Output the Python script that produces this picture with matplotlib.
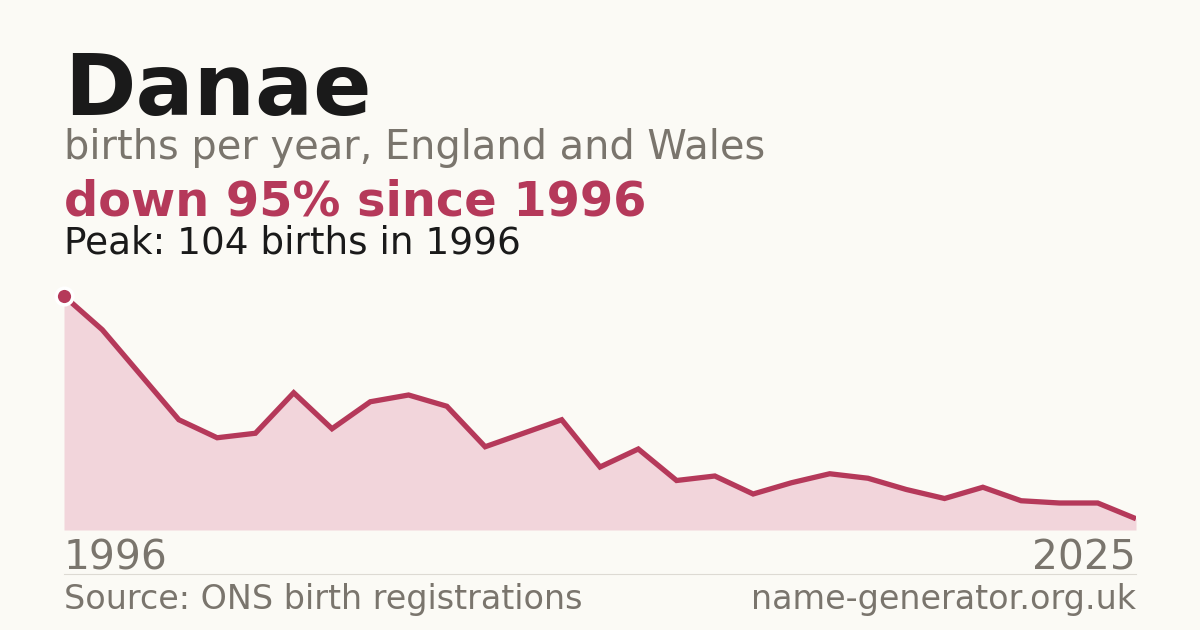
import numpy as np
import matplotlib
matplotlib.use("Agg")
import matplotlib.pyplot as plt

# births per year
births = [104, 89, 69, 49, 41, 43, 61, 45, 57, 60, 55, 37, 43, 49, 28,
          36, 22, 24, 16, 21, 25, 23, 18, 14, 19, 13, 12, 12, 5]
first_year = "1996"
last_year = "2025"

name = "Danae"
subtitle = "births per year, England and Wales"
change_text = "down 95% since 1996"
peak_text = "Peak: 104 births in 1996"
source_text = "Source: ONS birth registrations"
site_text = "name-generator.org.uk"

BG = "#fbfaf5"
RED = "#b5395a"
FILL = "#f2d5db"
GREY = "#7a756d"
INK = "#1a1a1a"

W, H = 1200, 630
fig = plt.figure(figsize=(12, 6.3), dpi=100, facecolor=BG)
plt.rcParams['font.family'] = ['DejaVu Sans']

def fy(px):
    # pixel row from top -> figure fraction
    return (H - px) / H

x = np.arange(len(births))
ax = fig.add_axes([64 / W, fy(530), (1136 - 64) / W, (530 - 296) / H])
ax.set_facecolor("none")
ax.fill_between(x, births, 0, color=FILL, lw=0)
ax.plot(x, births, color=RED, lw=3.8, solid_joinstyle="miter", solid_capstyle="butt")
ax.plot(x[0], births[0], "o", ms=12, color=RED, mec="white", mew=2.5, clip_on=False, zorder=5)
ax.set_xlim(0, len(births) - 1)
ax.set_ylim(0, max(births))
ax.axis("off")

fig.text(64 / W, fy(115), name, fontsize=62, fontweight="bold", color=INK, va="baseline")
fig.text(64 / W, fy(159), subtitle, fontsize=28.7, color=GREY, va="baseline")
fig.text(64 / W, fy(215), change_text, fontsize=34.5, fontweight="bold", color=RED, va="baseline")
fig.text(64 / W, fy(254), peak_text, fontsize=26.9, color=INK, va="baseline")

fig.text(64 / W, fy(570), first_year, fontsize=29.3, color=GREY, va="baseline")
fig.text(1136 / W, fy(570), last_year, fontsize=29.3, color=GREY, va="baseline", ha="right")

fig.add_artist(plt.Line2D([64 / W, 1136 / W], [fy(574), fy(574)], color="#dddad3", lw=0.8))

fig.text(64 / W, fy(609), source_text, fontsize=24, color=GREY, va="baseline")
fig.text(1136 / W, fy(609), site_text, fontsize=24, color=GREY, va="baseline", ha="right")

fig.savefig("out.png", dpi=100, facecolor=BG)
